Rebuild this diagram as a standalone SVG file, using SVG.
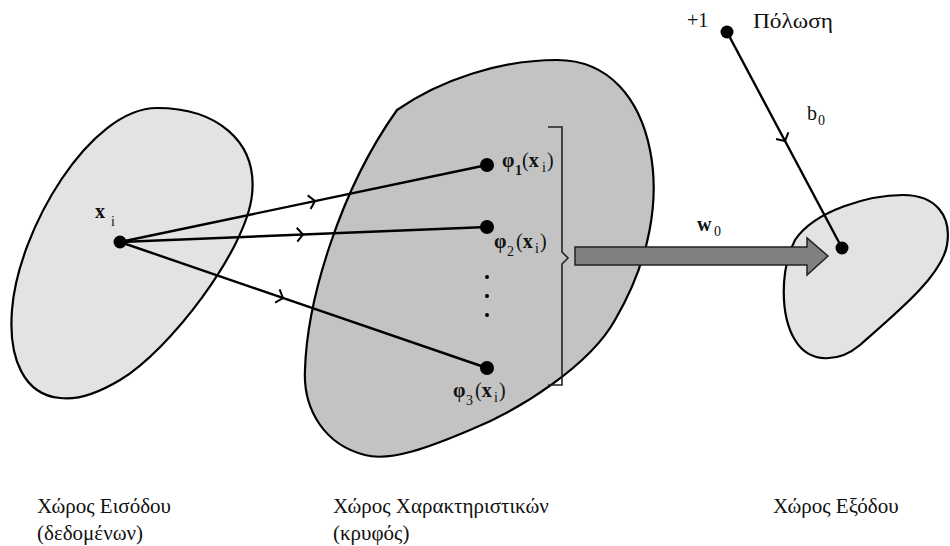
<svg xmlns="http://www.w3.org/2000/svg" width="950" height="546" viewBox="0 0 950 546" font-family="'Liberation Serif', 'DejaVu Serif', serif">
<style>
.blob{stroke:#000;stroke-width:2.2}
.ln{stroke:#000;stroke-width:2.4;fill:none}
.chev{stroke:#000;stroke-width:2;fill:none}
text{font-family:'Liberation Serif','DejaVu Serif',serif;fill:#111}
.lab{font-size:20px}
.cap{font-size:21px}
.b{font-weight:bold}
.sub{font-size:14px}
</style>
<defs>
<path id="chev" class="chev" d="M-6,-7 L0,0 L-6,7"/>
</defs>
<g id="input-space">
<path class="blob" fill="#e3e3e3" d="M157,108 C215,108 258,140 252,195 C246,250 170,350 120,380 C95,395 75,400 60,398 C25,395 8,360 12,310 C18,230 90,108 157,108 Z"/>
</g>
<g id="feature-space">
<path class="blob" fill="#c3c3c3" d="M397,110 C440,80 500,60 557,60 C610,60 640,100 650,150 C660,200 650,260 615,320 C590,365 520,410 470,430 C430,447 390,462 365,455 C325,445 303,410 305,370 C307,300 340,190 397,110 Z"/>
</g>
<g id="output-space">
<path class="blob" fill="#e3e3e3" d="M903,195 C935,195 952,215 947,245 C942,275 900,310 860,345 C840,362 810,365 795,340 C780,315 780,270 795,240 C815,210 870,195 903,195 Z"/>
</g>
<g id="connectors">
<line class="ln" x1="120" y1="242" x2="487" y2="165"/>
<line class="ln" x1="120" y1="242" x2="487" y2="227"/>
<line class="ln" x1="120" y1="242" x2="487" y2="368"/>
<line class="ln" x1="727" y1="32" x2="842" y2="248"/>
<use href="#chev" transform="translate(315,201) rotate(-11.85)"/>
<use href="#chev" transform="translate(303,234.5) rotate(-2.34)"/>
<use href="#chev" transform="translate(283,298) rotate(18.9)"/>
<use href="#chev" transform="translate(785,141) rotate(62)"/>
<path d="M548,127 H562 V252 L568,258 L562,264 V385 H548" fill="none" stroke="#222" stroke-width="1.6"/>
<path d="M575,247 H807 V238 L828,256 L807,275 V265 H575 Z" fill="#808080" stroke="#222" stroke-width="1.5"/>
</g>
<g id="xi">
<circle cx="120" cy="242" r="6.5" fill="#000"/>
<text x="95" y="218" class="lab b">x</text><text x="111" y="226" class="sub">i</text>
</g>
<g id="phi1">
<circle cx="487" cy="165" r="7" fill="#000"/>
<text x="502" y="167" class="lab b">φ</text><text x="515" y="175" class="sub b">1</text><text x="522" y="167" class="lab">(<tspan class="b">x</tspan></text><text x="542" y="172" class="sub">i</text><text x="547" y="167" class="lab">)</text>
</g>
<g id="phi2">
<circle cx="487" cy="227" r="7" fill="#000"/>
<text x="494" y="248" class="lab b">φ</text><text x="507" y="256" class="sub">2</text><text x="516" y="248" class="lab">(<tspan class="b">x</tspan></text><text x="535" y="253" class="sub">i</text><text x="540" y="248" class="lab">)</text>
</g>
<g id="dots">
<circle cx="487" cy="277" r="2" fill="#000"/>
<circle cx="487" cy="296" r="2" fill="#000"/>
<circle cx="487" cy="315" r="2" fill="#000"/>
</g>
<g id="phi3">
<circle cx="487" cy="368" r="7" fill="#000"/>
<text x="453" y="397" class="lab b">φ</text><text x="466" y="405" class="sub">3</text><text x="475" y="397" class="lab">(<tspan class="b">x</tspan></text><text x="494" y="402" class="sub">i</text><text x="499" y="397" class="lab">)</text>
</g>
<g id="w0">
<text x="697" y="231" class="lab b">w</text><text x="714" y="236" class="sub">0</text>
</g>
<g id="bias">
<circle cx="727" cy="32" r="6.5" fill="#000"/>
<text x="687" y="27" class="lab">+1</text>
<text x="753" y="28" class="lab" textLength="80" lengthAdjust="spacingAndGlyphs">Πόλωση</text>
<text x="807" y="120" class="lab">b</text><text x="818" y="125" class="sub">0</text>
</g>
<g id="output-point">
<circle cx="842" cy="248" r="6.5" fill="#000"/>
</g>
<g id="captions">
<text x="37" y="513" class="cap">Χώρος Εισόδου</text>
<text x="37" y="540" class="cap">(δεδομένων)</text>
<text x="333" y="513" class="cap">Χώρος Χαρακτηριστικών</text>
<text x="333" y="540" class="cap">(κρυφός)</text>
<text x="773" y="513" class="cap">Χώρος Εξόδου</text>
</g>
</svg>
